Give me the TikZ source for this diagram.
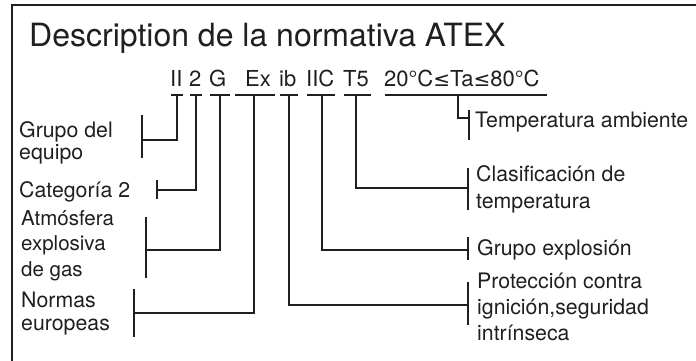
\documentclass[tikz,border=0pt]{standalone}
\usepackage{fontspec}
\setmainfont{TeX Gyre Heros}
\newfontfamily\symf{DejaVu Sans}
\begin{document}
\begin{tikzpicture}[x=1pt,y=-1pt,
  lbl/.style={inner sep=0pt,anchor=base west,align=left,text=black!88},
  codet/.style={inner sep=0pt,anchor=base west,font=\fontsize{22}{24}\selectfont,text=black!88},
  conn/.style={line width=1.8pt,black!88},
  brk/.style={line width=2.2pt,black!88}]
\useasboundingbox (0,0) rectangle (696,361);
% frame
\draw[line width=2.4pt,black!88] (12,362) -- (12,5) -- (697,5);
% title
\node[lbl,font=\fontsize{32}{34}\selectfont] (title) at (29,47) {Description de la normativa ATEX};
% code tokens
\node[codet] (cII)  at (170,86) {II};
\node[codet] (c2)   at (189,86) {2};
\node[codet] (cG)   at (209,86) {G};
\node[codet] (cEx)  at (245,86) {Ex};
\node[codet] (cib)  at (279,86) {ib};
\node[codet] (cIIC) at (306,86) {IIC};
\node[codet] (cT5)  at (343,86) {T5};
\node[codet] (cTa)  at (384,86) {20°C{\symf\fontsize{20}{24}\selectfont ≤}Ta{\symf\fontsize{20}{24}\selectfont ≤}80°C};
% underline bars
\draw[conn] (171,95) -- (183,95);
\draw[conn] (190,95) -- (202,95);
\draw[conn] (210,95) -- (230,95);
\draw[conn] (235,95) -- (275,95);
\draw[conn] (280,95) -- (298,95);
\draw[conn] (307,95) -- (335,95);
\draw[conn] (344,95) -- (371,95);
\draw[conn] (385,95) -- (547,95);
% tick tops
\coordinate (tII)  at (177,95);
\coordinate (t2)   at (196,95);
\coordinate (tG)   at (220,95);
\coordinate (tEx)  at (254,95);
\coordinate (tib)  at (289,95);
\coordinate (tIIC) at (322,95);
\coordinate (tT5)  at (356,95);
\coordinate (tTa)  at (458,95);
% bracket mid points
\coordinate (bGrupo) at (142,140);
\coordinate (bCat)   at (157,190);
\coordinate (bAtm)   at (146,250);
\coordinate (bNorm)  at (134,313);
\coordinate (bProt)  at (468,305);
\coordinate (bGE)    at (468,250);
\coordinate (bClas)  at (468,188);
\coordinate (bTemp)  at (469,118);
% left labels (base = last line)
\node[lbl,font=\fontsize{21.3}{22}\selectfont] (lGrupo) at (19,159) {Grupo del\\equipo};
\node[lbl,font=\fontsize{21.3}{24}\selectfont] (lCat) at (19,197) {Categoría 2};
\node[lbl,font=\fontsize{20.5}{25.5}\selectfont] (lAtm) at (21,276) {Atmósfera\\explosiva\\de gas};
\node[lbl,font=\fontsize{21.3}{23}\selectfont] (lNorm) at (21,330) {Normas\\europeas};
% right labels
\node[lbl,font=\fontsize{21.3}{24}\selectfont] (lTemp) at (475,127) {Temperatura ambiente};
\node[lbl,font=\fontsize{21.3}{26.5}\selectfont] (lClas) at (476,208) {Clasificación de\\temperatura};
\node[lbl,font=\fontsize{21.3}{24}\selectfont] (lGE) at (477,255) {Grupo explosión};
\node[lbl,font=\fontsize{21.3}{26}\selectfont] (lProt) at (477,340) {Protección contra\\ignición,seguridad\\intrínseca};
% connectors
\draw[conn] (tII) |- (bGrupo);
\draw[conn] (t2) |- (bCat);
\draw[conn] (tG) |- (bAtm);
\draw[conn] (tEx) |- (bNorm);
\draw[conn] (tib) |- (bProt);
\draw[conn] (tIIC) |- (bGE);
\draw[conn] (tT5) |- (bClas);
\draw[conn] (tTa) |- (bTemp);
% brackets
\draw[brk] (142,115) -- (142,158);
\draw[brk] (157,180) -- (157,199);
\draw[brk] (146,217) -- (146,278);
\draw[brk] (134,289) -- (134,337);
\draw[brk] (468,282) -- (468,325);
\draw[brk] (468,237) -- (468,260);
\draw[brk] (468,168) -- (468,210);
\draw[brk] (469,110) -- (469,140);
\end{tikzpicture}
\end{document}
